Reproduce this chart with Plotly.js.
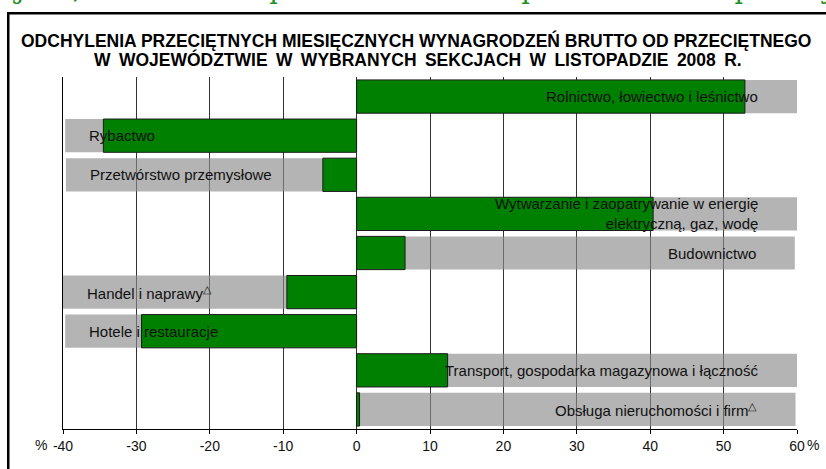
<!DOCTYPE html>
<html>
<head>
<meta charset="utf-8">
<script src="https://cdn.plot.ly/plotly-3.0.1.min.js"></script>
<style>
html,body{margin:0;padding:0;background:#fff;overflow:hidden;}
#chart{width:826px;height:469px;}
</style>
</head>
<body>
<div id="chart"></div>
<script>
// Sections (category keys), top to bottom
const sections = [
  "Rolnictwo, łowiectwo i leśnictwo",
  "Rybactwo",
  "Przetwórstwo przemysłowe",
  "Wytwarzanie i zaopatrywanie w energię elektryczną, gaz, wodę",
  "Budownictwo",
  "Handel i naprawy",
  "Hotele i restauracje",
  "Transport, gospodarka magazynowa i łączność",
  "Obsługa nieruchomości i firm"
];
// Labels as printed on the chart
const sectionLabels = [
  "Rolnictwo, łowiectwo i leśnictwo",
  "Rybactwo",
  "Przetwórstwo przemysłowe",
  "Wytwarzanie i zaopatrywanie w energię<br>elektryczną, gaz, wodę",
  "Budownictwo",
  "Handel i naprawy<sup>△</sup>",
  "Hotele i restauracje",
  "Transport, gospodarka magazynowa i łączność",
  "Obsługa nieruchomości i firm<sup>△</sup>"
];
// Deviation from voivodeship average, %
const deviation = [52.9, -34.5, -4.6, 40.4, 6.6, -9.5, -29.3, 12.4, 0.4];
// Grey label-background bars
const labelBand = [60, -39.7, -39.6, 60, 59.7, -40, -39.7, 60, 59.8];
// X axis ticks
const tickValues = [-40, -30, -20, -10, 0, 10, 20, 30, 40, 50, 60];
const tickLabels = ["-40", "-30", "-20", "-10", "0", "10", "20", "30", "40", "50", "60"];
const titleLines = [
  "ODCHYLENIA PRZECIĘTNYCH MIESIĘCZNYCH WYNAGRODZEŃ BRUTTO OD PRZECIĘTNEGO",
  "W WOJEWÓDZTWIE W WYBRANYCH SEKCJACH W LISTOPADZIE 2008 R."
];
const pageWords = ["sjach,", "handlu", "i", "naprawach", "oraz", "w", "przetwórstwie", "przemysłowym"];

const sans = "Liberation Sans, Arial, sans-serif";
const labelFont = {family: sans, size: 15, color: "#111"};

const traces = [
  {
    type: "bar", orientation: "h",
    y: sections, x: labelBand,
    marker: {color: "rgba(140,140,140,0.65)", line: {width: 0}},
    hoverinfo: "skip", showlegend: false
  },
  {
    type: "bar", orientation: "h",
    y: sections, x: deviation,
    marker: {color: "#008000", line: {color: "#1a1a1a", width: 1}},
    showlegend: false
  }
];

const annotations = sections.map((s, i) => {
  const neg = labelBand[i] < 0;
  return {
    x: labelBand[i], y: s, xref: "x", yref: "y",
    text: sectionLabels[i], showarrow: false,
    xanchor: neg ? "left" : "right", align: neg ? "left" : "right",
    xshift: neg ? 22 : -37,
    font: labelFont
  };
});
annotations.push({
  x: tickValues[0], y: 0, xref: "x", yref: "y domain", yanchor: "top",
  text: "%", showarrow: false, xshift: -22, yshift: -6,
  font: {family: sans, size: 14, color: "#111"}
});
annotations.push({
  x: tickValues[tickValues.length - 1], y: 0, xref: "x", yref: "y domain", yanchor: "top",
  text: "%", showarrow: false, xshift: 16, yshift: -6,
  font: {family: sans, size: 14, color: "#111"}
});
annotations.push({
  x: 0.5036, y: 0.9147, xref: "paper", yref: "paper", yanchor: "middle",
  text: titleLines[0], showarrow: false,
  font: {family: sans, size: 17.5, color: "#000", weight: "bold"}
});
annotations.push({
  x: 0.5060, y: 0.8742, xref: "paper", yref: "paper", yanchor: "middle",
  text: titleLines[1].split(" ").join(" \u2009"), showarrow: false,
  font: {family: sans, size: 17.5, color: "#000", weight: "bold"}
});
annotations.push({
  x: 0, y: 1.0235, xref: "paper", yref: "paper", xanchor: "left", yanchor: "middle",
  text: pageWords.join("\u00a0\u00a0"), showarrow: false,
  font: {family: "DejaVu Serif, serif", size: 27, color: "#1f8f1f"}
});
// Outer frame of the figure box (only its left and top edges fall inside the picture)
annotations.push({
  x: 7.3 / 826, y: 1 - 11.8 / 469, xref: "paper", yref: "paper", xanchor: "left", yanchor: "top",
  text: "\u00a0", showarrow: false, width: 900, height: 600,
  bordercolor: "#000", borderwidth: 2.5, borderpad: 0, bgcolor: "rgba(0,0,0,0)",
  font: {size: 10, color: "rgba(0,0,0,0)"}
});

const layout = {
  width: 826, height: 469,
  margin: {l: 0, r: 0, t: 0, b: 0, pad: 0},
  paper_bgcolor: "#fff", plot_bgcolor: "#fff",
  barmode: "overlay", bargap: 0.15,
  xaxis: {
    domain: [63 / 826, 797 / 826],
    range: [-40, 60], tickvals: tickValues, ticktext: tickLabels,
    showgrid: true, gridcolor: "#333", gridwidth: 1, zeroline: false,
    showline: true, linecolor: "#000", linewidth: 1,
    ticks: "outside", ticklen: 4, tickcolor: "#000",
    tickfont: {family: sans, size: 14, color: "#111"},
    fixedrange: true
  },
  yaxis: {
    domain: [1 - 429 / 469, 1 - 77 / 469],
    type: "category", autorange: "reversed", showticklabels: false,
    showgrid: false, zeroline: false, showline: true, linecolor: "#000", linewidth: 1,
    ticks: "", fixedrange: true
  },
  annotations: annotations
};

Plotly.newPlot("chart", traces, layout, {staticPlot: true, displayModeBar: false});
</script>
</body>
</html>
